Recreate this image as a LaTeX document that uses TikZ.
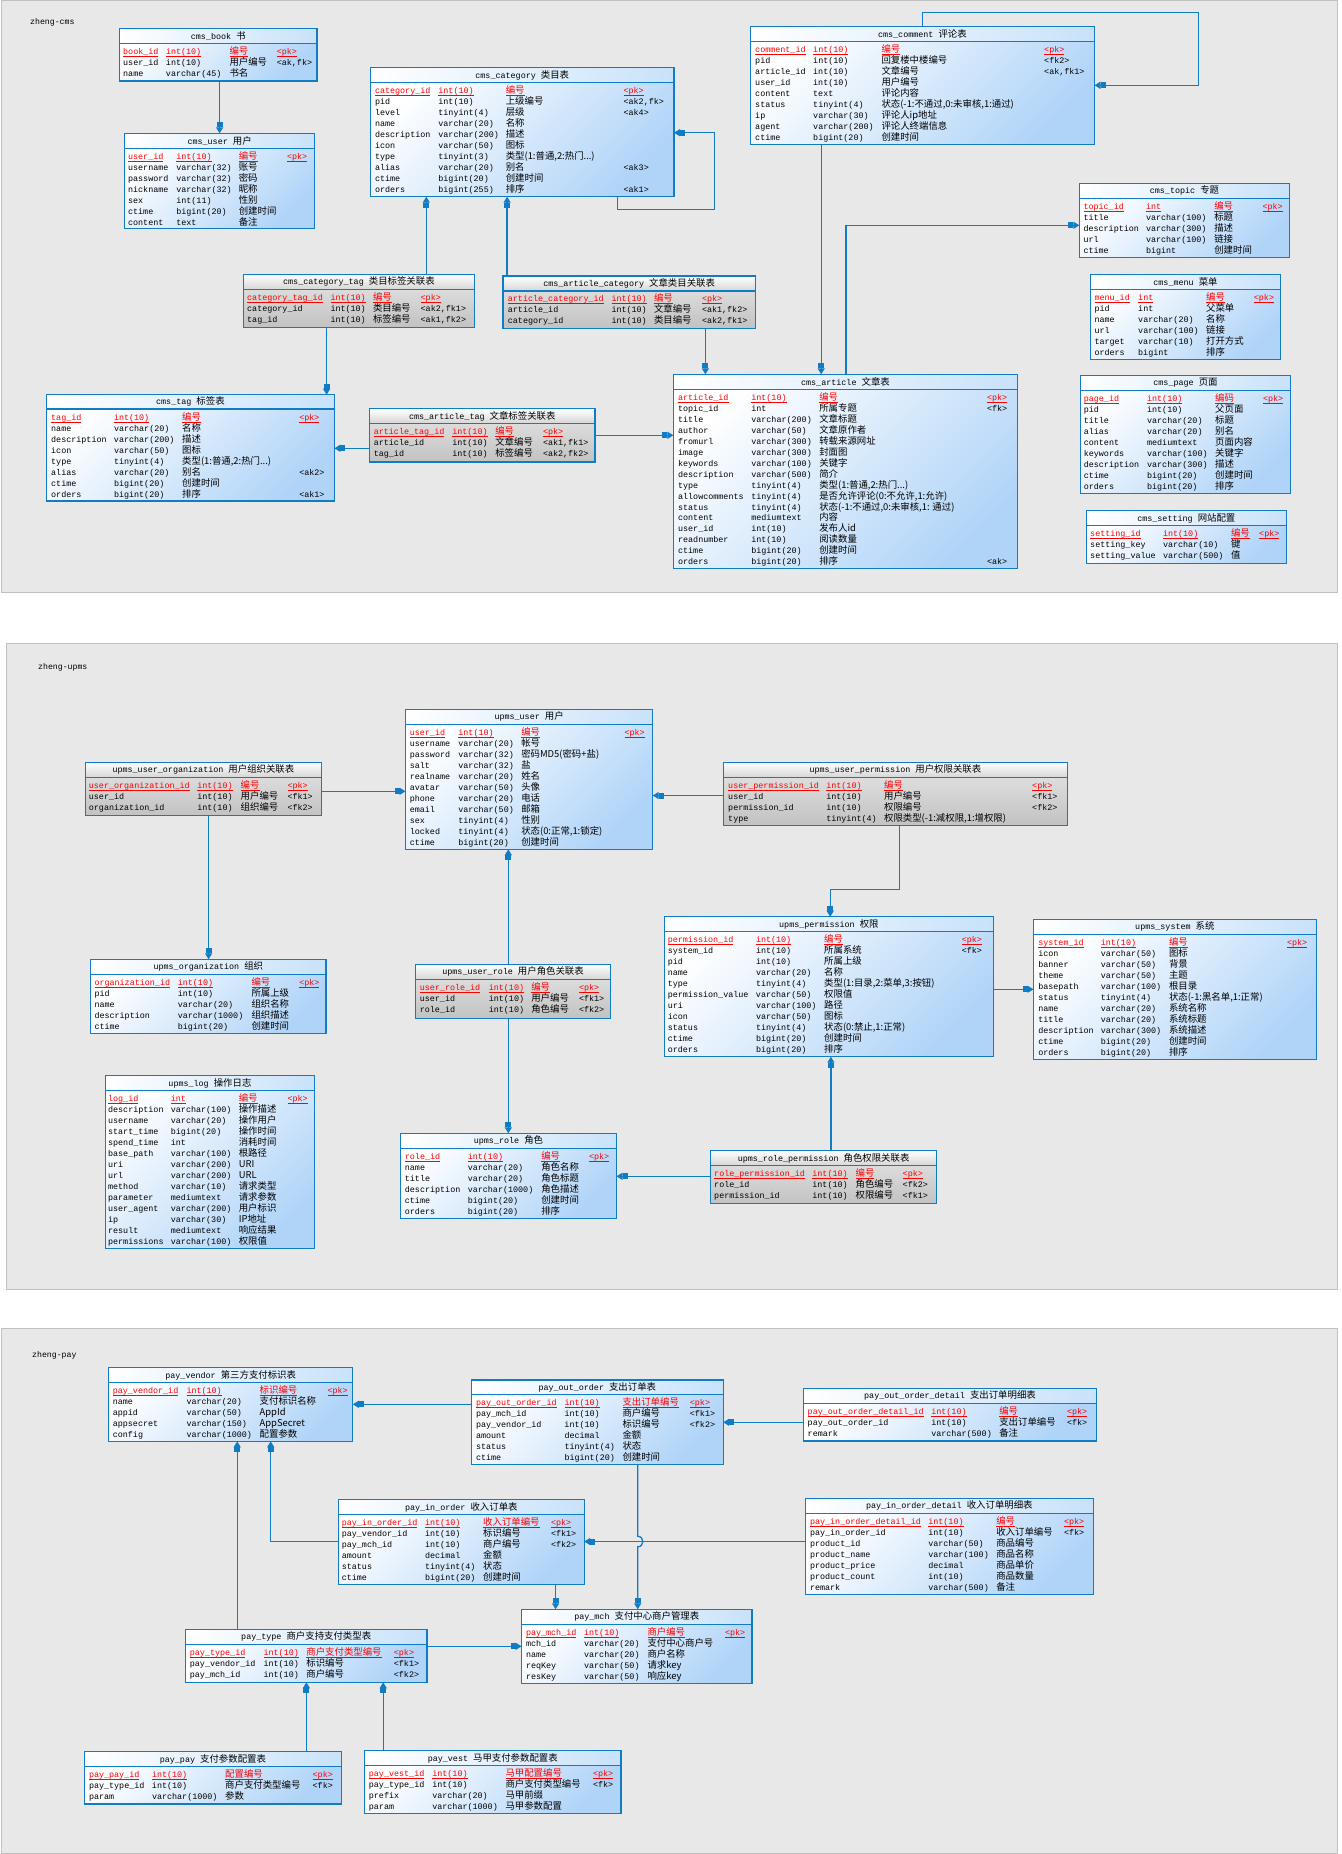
\documentclass[tikz,border=0pt]{standalone}
\usepackage{fontspec}
\usetikzlibrary{arrows.meta}
\newfontfamily\latfam{Liberation Mono}
\newfontfamily\cjkfam{Noto Sans CJK SC}
\newcommand\cjk{\cjkfam\fontsize{9.4}{11}\selectfont}
\definecolor{tb}{RGB}{16,124,196}
\definecolor{lb}{RGB}{176,212,248}
\definecolor{lbt}{RGB}{200,226,250}
\definecolor{pg}{RGB}{232,232,232}
\definecolor{pgb}{RGB}{192,192,192}
\definecolor{gt}{RGB}{214,214,214}
\definecolor{gba}{RGB}{230,230,230}
\definecolor{gbb}{RGB}{194,194,194}
\newcounter{rc}
\newlength\wA \newlength\wB \newlength\wC
\newsavebox\ulbox
\newcommand\ul[1]{\sbox\ulbox{#1}\rlap{\rule[-1.9pt]{\wd\ulbox}{0.6pt}}\usebox\ulbox}
\tikzset{
 bluebody/.style={top color=white,bottom color=lb,shading angle=45},
 bluetitle/.style={left color=white,right color=lbt},
 graybody/.style={top color=gba,bottom color=gbb},
 graytitle/.style={top color=white,bottom color=gt},
 tbox/.style={draw=tb,line width=1.3pt,inner sep=0pt,outer sep=0pt,anchor=north west},
 ttl/.style={inner sep=0pt,font=\latfam\fontsize{8.4}{11}\selectfont},
 rowtxt/.style={inner sep=0pt,outer sep=0pt,anchor=base west,font=\latfam\fontsize{8.4}{11}\selectfont},
 fk/.style={draw=tb,line width=1.3pt,-{Rectangle[length=5pt,width=6pt]Triangle[length=6pt,width=7pt]}},
 panel/.style={fill=pg,draw=pgb,line width=1pt},
 plabel/.style={anchor=west,inner sep=0pt,font=\latfam\fontsize{8.2}{10}\selectfont},
}
\newcommand\tbl[9]{%
 \shade[#9body] (#2,#3) rectangle (#4,#5);
 \shade[#9title] (#2,#3) rectangle (#4,#6);
 \node[tbox,minimum width={#4pt-#2pt},minimum height={#5pt-#3pt}] (#1) at (#2,#3) {};
 \draw[draw=tb,line width=1.3pt] (#1.west |- 0,#6) -- (#1.east |- 0,#6);
 \node[ttl] (#1-t) at ({(#2+#4)/2},{(#3+#6)/2}) {#7\ {\cjk #8}};
}
\newcommand\cols[5]{\def\cA{#1}\def\ry{#5}%
 \setlength\wA{\dimexpr#2pt-#1pt\relax}%
 \setlength\wB{\dimexpr#3pt-#2pt\relax}%
 \setlength\wC{\dimexpr#4pt-#3pt\relax}}
\newcommand\rw[4]{\stepcounter{rc}%
 \node[rowtxt] (r\arabic{rc}) at (\cA,\ry+3.6) {\makebox[\wA][l]{#1}\makebox[\wB][l]{#2}\makebox[\wC][l]{\cjk #3}#4};%
 \pgfmathsetmacro\ry{\ry+10.97}}
\newcommand\pk[4]{\stepcounter{rc}%
 \node[rowtxt,text=red] (r\arabic{rc}) at (\cA,\ry+3.6) {\makebox[\wA][l]{\ul{#1}}\makebox[\wB][l]{\ul{#2}}\makebox[\wC][l]{\ul{\cjk #3}}\ul{#4}};%
 \pgfmathsetmacro\ry{\ry+10.97}}
\begin{document}
\begin{tikzpicture}[x=1pt,y=-1pt]
\useasboundingbox (0,0) rectangle (1341,1854);
\fill[white] (0,0) rectangle (1341,1854);
% panels
\draw[panel] (1,1) rectangle (1337,592);
\draw[panel] (6,643) rectangle (1337,1289);
\draw[panel] (1,1328) rectangle (1337,1853);
\node[plabel] (lcms) at (30,22) {zheng-cms};
\node[plabel] (lupms) at (38,667) {zheng-upms};
\node[plabel] (lpay) at (32,1355) {zheng-pay};

% ================= CMS =================
\tbl{cmsbook}{119.6}{28.3}{317}{81}{43.3}{cms\_book}{书}{blue}
\cols{123.2}{166}{229.5}{276.8}{51}
\pk{book\_id}{int(10)}{编号}{<pk>}
\rw{user\_id}{int(10)}{用户编号}{<ak,fk>}
\rw{name}{varchar(45)}{书名}{}

\tbl{cmsuser}{124.5}{133.3}{314.7}{228.3}{148.3}{cms\_user}{用户}{blue}
\cols{128.1}{176.3}{238.8}{287}{155.7}
\pk{user\_id}{int(10)}{编号}{<pk>}
\rw{username}{varchar(32)}{账号}{}
\rw{password}{varchar(32)}{密码}{}
\rw{nickname}{varchar(32)}{昵称}{}
\rw{sex}{int(11)}{性别}{}
\rw{ctime}{bigint(20)}{创建时间}{}
\rw{content}{text}{备注}{}

\tbl{cmscategory}{370.5}{67.7}{674}{196.7}{82.7}{cms\_category}{类目表}{blue}
\cols{375}{438.4}{505.8}{623.6}{89.7}
\pk{category\_id}{int(10)}{编号}{<pk>}
\rw{pid}{int(10)}{上级编号}{<ak2,fk>}
\rw{level}{tinyint(4)}{层级}{<ak4>}
\rw{name}{varchar(20)}{名称}{}
\rw{description}{varchar(200)}{描述}{}
\rw{icon}{varchar(50)}{图标}{}
\rw{type}{tinyint(3)}{类型(1:普通,2:热门...)}{}
\rw{alias}{varchar(20)}{别名}{<ak3>}
\rw{ctime}{bigint(20)}{创建时间}{}
\rw{orders}{bigint(255)}{排序}{<ak1>}

\tbl{cmscomment}{750.3}{26.7}{1094.5}{144.3}{41.7}{cms\_comment}{评论表}{blue}
\cols{755.2}{813.2}{881.5}{1044.2}{49}
\pk{comment\_id}{int(10)}{编号}{<pk>}
\rw{pid}{int(10)}{回复楼中楼编号}{<fk2>}
\rw{article\_id}{int(10)}{文章编号}{<ak,fk1>}
\rw{user\_id}{int(10)}{用户编号}{}
\rw{content}{text}{评论内容}{}
\rw{status}{tinyint(4)}{状态(-1:不通过,0:未审核,1:通过)}{}
\rw{ip}{varchar(30)}{评论人ip地址}{}
\rw{agent}{varchar(200)}{评论人终端信息}{}
\rw{ctime}{bigint(20)}{创建时间}{}

\tbl{cmstopic}{1079.4}{183.3}{1289.5}{257.3}{198.3}{cms\_topic}{专题}{blue}
\cols{1083.5}{1146}{1214.3}{1262.5}{205.7}
\pk{topic\_id}{int}{编号}{<pk>}
\rw{title}{varchar(100)}{标题}{}
\rw{description}{varchar(300)}{描述}{}
\rw{url}{varchar(100)}{链接}{}
\rw{ctime}{bigint}{创建时间}{}

\tbl{cmsmenu}{1090.4}{274.3}{1280.5}{359.3}{289.3}{cms\_menu}{菜单}{blue}
\cols{1094.5}{1138.2}{1206.1}{1253.9}{296.7}
\pk{menu\_id}{int}{编号}{<pk>}
\rw{pid}{int}{父菜单}{}
\rw{name}{varchar(20)}{名称}{}
\rw{url}{varchar(100)}{链接}{}
\rw{target}{varchar(10)}{打开方式}{}
\rw{orders}{bigint}{排序}{}

\tbl{cmspage}{1080.4}{375.3}{1290.5}{493.3}{390.7}{cms\_page}{页面}{blue}
\cols{1083.8}{1147.1}{1215.2}{1263.1}{397.7}
\pk{page\_id}{int(10)}{编码}{<pk>}
\rw{pid}{int(10)}{父页面}{}
\rw{title}{varchar(20)}{标题}{}
\rw{alias}{varchar(20)}{别名}{}
\rw{content}{mediumtext}{页面内容}{}
\rw{keywords}{varchar(100)}{关键字}{}
\rw{description}{varchar(300)}{描述}{}
\rw{ctime}{bigint(20)}{创建时间}{}
\rw{orders}{bigint(20)}{排序}{}

\tbl{cmssetting}{1086.4}{510.7}{1286.2}{563.3}{525.3}{cms\_setting}{网站配置}{blue}
\cols{1090.2}{1163}{1231}{1259.2}{533}
\pk{setting\_id}{int(10)}{编号}{<pk>}
\rw{setting\_key}{varchar(10)}{键}{}
\rw{setting\_value}{varchar(500)}{值}{}

\tbl{cmscattag}{243.3}{274.3}{474.5}{327.3}{289.3}{cms\_category\_tag}{类目标签关联表}{gray}
\cols{247.2}{330.5}{373}{420.7}{296.7}
\pk{category\_tag\_id}{int(10)}{编号}{<pk>}
\rw{category\_id}{int(10)}{类目编号}{<ak2,fk1>}
\rw{tag\_id}{int(10)}{标签编号}{<ak1,fk2>}

\tbl{cmsartcat}{503.1}{276}{755.2}{328.3}{291}{cms\_article\_category}{文章类目关联表}{gray}
\cols{507.9}{611.5}{654}{702}{298.3}
\pk{article\_category\_id}{int(10)}{编号}{<pk>}
\rw{article\_id}{int(10)}{文章编号}{<ak1,fk2>}
\rw{category\_id}{int(10)}{类目编号}{<ak2,fk1>}

\tbl{cmstag}{46.4}{394.7}{334.4}{501}{409}{cms\_tag}{标签表}{blue}
\cols{51.2}{114}{182.2}{299.3}{416.7}
\pk{tag\_id}{int(10)}{编号}{<pk>}
\rw{name}{varchar(20)}{名称}{}
\rw{description}{varchar(200)}{描述}{}
\rw{icon}{varchar(50)}{图标}{}
\rw{type}{tinyint(4)}{类型(1:普通,2:热门...)}{}
\rw{alias}{varchar(20)}{别名}{<ak2>}
\rw{ctime}{bigint(20)}{创建时间}{}
\rw{orders}{bigint(20)}{排序}{<ak1>}

\tbl{cmsarttag}{369.5}{408.7}{595}{462}{423.3}{cms\_article\_tag}{文章标签关联表}{gray}
\cols{373.8}{452.3}{495.3}{543}{431}
\pk{article\_tag\_id}{int(10)}{编号}{<pk>}
\rw{article\_id}{int(10)}{文章编号}{<ak1,fk1>}
\rw{tag\_id}{int(10)}{标签编号}{<ak2,fk2>}

\tbl{cmsarticle}{673.4}{374.3}{1017.5}{568.7}{389.3}{cms\_article}{文章表}{blue}
\cols{678.1}{751.3}{819.3}{987.1}{396.7}
\pk{article\_id}{int(10)}{编号}{<pk>}
\rw{topic\_id}{int}{所属专题}{<fk>}
\rw{title}{varchar(200)}{文章标题}{}
\rw{author}{varchar(50)}{文章原作者}{}
\rw{fromurl}{varchar(300)}{转载来源网址}{}
\rw{image}{varchar(300)}{封面图}{}
\rw{keywords}{varchar(100)}{关键字}{}
\rw{description}{varchar(500)}{简介}{}
\rw{type}{tinyint(4)}{类型(1:普通,2:热门...)}{}
\rw{allowcomments}{tinyint(4)}{是否允许评论(0:不允许,1:允许)}{}
\rw{status}{tinyint(4)}{状态(-1:不通过,0:未审核,1: 通过)}{}
\rw{content}{mediumtext}{内容}{}
\rw{user\_id}{int(10)}{发布人id}{}
\rw{readnumber}{int(10)}{阅读数量}{}
\rw{ctime}{bigint(20)}{创建时间}{}
\rw{orders}{bigint(20)}{排序}{<ak>}

% ================= UPMS =================
\tbl{upuser}{405.5}{709.3}{652.7}{849.3}{724.3}{upms\_user}{用户}{blue}
\cols{409.8}{458.4}{521.3}{624.5}{731.7}
\pk{user\_id}{int(10)}{编号}{<pk>}
\rw{username}{varchar(20)}{帐号}{}
\rw{password}{varchar(32)}{密码MD5(密码+盐)}{}
\rw{salt}{varchar(32)}{盐}{}
\rw{realname}{varchar(20)}{姓名}{}
\rw{avatar}{varchar(50)}{头像}{}
\rw{phone}{varchar(20)}{电话}{}
\rw{email}{varchar(50)}{邮箱}{}
\rw{sex}{tinyint(4)}{性别}{}
\rw{locked}{tinyint(4)}{状态(0:正常,1:锁定)}{}
\rw{ctime}{bigint(20)}{创建时间}{}

\tbl{upuserorg}{85.4}{762.3}{321.4}{815.3}{777.3}{upms\_user\_organization}{用户组织关联表}{gray}
\cols{88.9}{197.3}{240.7}{287.5}{784.7}
\pk{user\_organization\_id}{int(10)}{编号}{<pk>}
\rw{user\_id}{int(10)}{用户编号}{<fk1>}
\rw{organization\_id}{int(10)}{组织编号}{<fk2>}

\tbl{upuserperm}{723.4}{762.3}{1067.4}{825.3}{777.3}{upms\_user\_permission}{用户权限关联表}{gray}
\cols{728.2}{826.3}{884.1}{1032.2}{784.7}
\pk{user\_permission\_id}{int(10)}{编号}{<pk>}
\rw{user\_id}{int(10)}{用户编号}{<fk1>}
\rw{permission\_id}{int(10)}{权限编号}{<fk2>}
\rw{type}{tinyint(4)}{权限类型(-1:减权限,1:增权限)}{}

\tbl{upperm}{664.3}{916.7}{993.5}{1056.7}{931.7}{upms\_permission}{权限}{blue}
\cols{667.8}{756}{824.2}{961.8}{938.7}
\pk{permission\_id}{int(10)}{编号}{<pk>}
\rw{system\_id}{int(10)}{所属系统}{<fk>}
\rw{pid}{int(10)}{所属上级}{}
\rw{name}{varchar(20)}{名称}{}
\rw{type}{tinyint(4)}{类型(1:目录,2:菜单,3:按钮)}{}
\rw{permission\_value}{varchar(50)}{权限值}{}
\rw{uri}{varchar(100)}{路径}{}
\rw{icon}{varchar(50)}{图标}{}
\rw{status}{tinyint(4)}{状态(0:禁止,1:正常)}{}
\rw{ctime}{bigint(20)}{创建时间}{}
\rw{orders}{bigint(20)}{排序}{}

\tbl{upsystem}{1033.5}{919.3}{1316.2}{1059.3}{934.3}{upms\_system}{系统}{blue}
\cols{1038.3}{1100.8}{1169}{1287.1}{942}
\pk{system\_id}{int(10)}{编号}{<pk>}
\rw{icon}{varchar(50)}{图标}{}
\rw{banner}{varchar(50)}{背景}{}
\rw{theme}{varchar(50)}{主题}{}
\rw{basepath}{varchar(100)}{根目录}{}
\rw{status}{tinyint(4)}{状态(-1:黑名单,1:正常)}{}
\rw{name}{varchar(20)}{系统名称}{}
\rw{title}{varchar(20)}{系统标题}{}
\rw{description}{varchar(300)}{系统描述}{}
\rw{ctime}{bigint(20)}{创建时间}{}
\rw{orders}{bigint(20)}{排序}{}

\tbl{uporg}{90.6}{959.3}{326.1}{1033.3}{974.3}{upms\_organization}{组织}{blue}
\cols{94.5}{177.8}{251.5}{299.3}{981.7}
\pk{organization\_id}{int(10)}{编号}{<pk>}
\rw{pid}{int(10)}{所属上级}{}
\rw{name}{varchar(20)}{组织名称}{}
\rw{description}{varchar(1000)}{组织描述}{}
\rw{ctime}{bigint(20)}{创建时间}{}

\tbl{upuserrole}{415.5}{964.3}{610.6}{1018.3}{979.3}{upms\_user\_role}{用户角色关联表}{gray}
\cols{419.8}{488.8}{531.3}{579}{986.7}
\pk{user\_role\_id}{int(10)}{编号}{<pk>}
\rw{user\_id}{int(10)}{用户编号}{<fk1>}
\rw{role\_id}{int(10)}{角色编号}{<fk2>}

\tbl{uplog}{105.3}{1075.3}{314.6}{1248.3}{1090.7}{upms\_log}{操作日志}{blue}
\cols{108.1}{170.9}{238.8}{287.6}{1098.3}
\pk{log\_id}{int}{编号}{<pk>}
\rw{description}{varchar(100)}{操作描述}{}
\rw{username}{varchar(20)}{操作用户}{}
\rw{start\_time}{bigint(20)}{操作时间}{}
\rw{spend\_time}{int}{消耗时间}{}
\rw{base\_path}{varchar(100)}{根路径}{}
\rw{uri}{varchar(200)}{URI}{}
\rw{url}{varchar(200)}{URL}{}
\rw{method}{varchar(10)}{请求类型}{}
\rw{parameter}{mediumtext}{请求参数}{}
\rw{user\_agent}{varchar(200)}{用户标识}{}
\rw{ip}{varchar(30)}{IP地址}{}
\rw{result}{mediumtext}{响应结果}{}
\rw{permissions}{varchar(100)}{权限值}{}

\tbl{uprole}{400.4}{1133.3}{616.5}{1218.3}{1148.3}{upms\_role}{角色}{blue}
\cols{404.9}{467.8}{541.3}{589}{1156.3}
\pk{role\_id}{int(10)}{编号}{<pk>}
\rw{name}{varchar(20)}{角色名称}{}
\rw{title}{varchar(20)}{角色标题}{}
\rw{description}{varchar(1000)}{角色描述}{}
\rw{ctime}{bigint(20)}{创建时间}{}
\rw{orders}{bigint(20)}{排序}{}

\tbl{uproleperm}{710.8}{1150.3}{936.4}{1203.7}{1165.7}{upms\_role\_permission}{角色权限关联表}{gray}
\cols{714.2}{812.4}{855.6}{902.7}{1173}
\pk{role\_permission\_id}{int(10)}{编号}{<pk>}
\rw{role\_id}{int(10)}{角色编号}{<fk2>}
\rw{permission\_id}{int(10)}{权限编号}{<fk1>}

% ================= PAY =================
\tbl{payvendor}{108.6}{1367.7}{352.8}{1441.3}{1382.7}{pay\_vendor}{第三方支付标识表}{blue}
\cols{112.8}{186.5}{259.7}{327.5}{1390}
\pk{pay\_vendor\_id}{int(10)}{标识编号}{<pk>}
\rw{name}{varchar(20)}{支付标识名称}{}
\rw{appid}{varchar(50)}{AppId}{}
\rw{appsecret}{varchar(150)}{AppSecret}{}
\rw{config}{varchar(1000)}{配置参数}{}

\tbl{payout}{471.4}{1380}{723.2}{1464.3}{1394.3}{pay\_out\_order}{支出订单表}{blue}
\cols{476}{564.5}{622.5}{689.9}{1402}
\pk{pay\_out\_order\_id}{int(10)}{支出订单编号}{<pk>}
\rw{pay\_mch\_id}{int(10)}{商户编号}{<fk1>}
\rw{pay\_vendor\_id}{int(10)}{标识编号}{<fk2>}
\rw{amount}{decimal}{金额}{}
\rw{status}{tinyint(4)}{状态}{}
\rw{ctime}{bigint(20)}{创建时间}{}

\tbl{payoutdet}{803.3}{1388.3}{1096.7}{1441}{1403.3}{pay\_out\_order\_detail}{支出订单明细表}{blue}
\cols{807.7}{931.3}{999.3}{1067}{1411}
\pk{pay\_out\_order\_detail\_id}{int(10)}{编号}{<pk>}
\rw{pay\_out\_order\_id}{int(10)}{支出订单编号}{<fk>}
\rw{remark}{varchar(500)}{备注}{}

\tbl{payin}{338.4}{1499.7}{584.2}{1584.3}{1514.3}{pay\_in\_order}{收入订单表}{blue}
\cols{341.8}{425.1}{483.2}{551}{1522}
\pk{pay\_in\_order\_id}{int(10)}{收入订单编号}{<pk>}
\rw{pay\_vendor\_id}{int(10)}{标识编号}{<fk1>}
\rw{pay\_mch\_id}{int(10)}{商户编号}{<fk2>}
\rw{amount}{decimal}{金额}{}
\rw{status}{tinyint(4)}{状态}{}
\rw{ctime}{bigint(20)}{创建时间}{}

\tbl{payindet}{805.3}{1498.3}{1093.3}{1594.3}{1513.3}{pay\_in\_order\_detail}{收入订单明细表}{blue}
\cols{810}{928.3}{996.3}{1064}{1521}
\pk{pay\_in\_order\_detail\_id}{int(10)}{编号}{<pk>}
\rw{pay\_in\_order\_id}{int(10)}{收入订单编号}{<fk>}
\rw{product\_id}{varchar(50)}{商品编号}{}
\rw{product\_name}{varchar(100)}{商品名称}{}
\rw{product\_price}{decimal}{商品单价}{}
\rw{product\_count}{int(10)}{商品数量}{}
\rw{remark}{varchar(500)}{备注}{}

\tbl{paymch}{521.6}{1609.3}{751.9}{1683.3}{1624.3}{pay\_mch}{支付中心商户管理表}{blue}
\cols{526}{584.1}{647.5}{725.1}{1632}
\pk{pay\_mch\_id}{int(10)}{商户编号}{<pk>}
\rw{mch\_id}{varchar(20)}{支付中心商户号}{}
\rw{name}{varchar(20)}{商户名称}{}
\rw{reqKey}{varchar(50)}{请求key}{}
\rw{resKey}{varchar(50)}{响应key}{}

\tbl{paytype}{185.4}{1629.3}{427}{1682.3}{1644.3}{pay\_type}{商户支持支付类型表}{blue}
\cols{189.9}{263.6}{306.4}{393.9}{1652}
\pk{pay\_type\_id}{int(10)}{商户支付类型编号}{<pk>}
\rw{pay\_vendor\_id}{int(10)}{标识编号}{<fk1>}
\rw{pay\_mch\_id}{int(10)}{商户编号}{<fk2>}

\tbl{paypay}{84.6}{1751.7}{341.2}{1804}{1766.7}{pay\_pay}{支付参数配置表}{blue}
\cols{89}{152}{225.2}{312.7}{1774}
\pk{pay\_pay\_id}{int(10)}{配置编号}{<pk>}
\rw{pay\_type\_id}{int(10)}{商户支付类型编号}{<fk>}
\rw{param}{varchar(1000)}{参数}{}

\tbl{payvest}{364.4}{1750.7}{621.1}{1813.3}{1765.7}{pay\_vest}{马甲支付参数配置表}{blue}
\cols{368.9}{432.3}{505.5}{593}{1773}
\pk{pay\_vest\_id}{int(10)}{马甲配置编号}{<pk>}
\rw{pay\_type\_id}{int(10)}{商户支付类型编号}{<fk>}
\rw{prefix}{varchar(20)}{马甲前缀}{}
\rw{param}{varchar(1000)}{马甲参数配置}{}

% ================= connectors =================
% CMS
\draw[fk] (cmsbook.south -| 219.6,0) -- (cmsuser.north -| 219.6,0);
\draw[fk] (cmscattag.north -| 426.3,0) -- (cmscategory.south -| 426.3,0);
\draw[fk] (cmsartcat.north -| 507.1,0) -- (cmscategory.south -| 507.1,0);
\draw[fk] (cmscategory.south -| 617.4,0) -- (617.4,209.3) -- (714.7,209.3) -- (714.7,132.7) -- (cmscategory.east |- 0,132.7);
\draw[fk] (cmscomment.north -| 922.4,0) -- (922.4,12.7) -- (1198.3,12.7) -- (1198.3,85.3) -- (cmscomment.east |- 0,85.3);
\draw[fk] (cmscomment.south -| 821.2,0) -- (cmsarticle.north -| 821.2,0);
\draw[fk] (cmsartcat.south -| 705.4,0) -- (cmsarticle.north -| 705.4,0);
\draw[fk] (cmsarticle.north -| 846,0) -- (846,225.3) -- (cmstopic.west |- 0,225.3);
\draw[fk] (cmscattag.south -| 326.6,0) -- (cmstag.north -| 326.6,0);
\draw[fk] (cmsarttag.west |- 0,448.3) -- (cmstag.east |- 0,448.3);
\draw[fk] (cmsarttag.east |- 0,435.3) -- (cmsarticle.west |- 0,435.3);
% UPMS
\draw[fk] (upuserorg.east |- 0,791.3) -- (upuser.west |- 0,791.3);
\draw[fk] (upuserperm.west |- 0,795.5) -- (upuser.east |- 0,795.5);
\draw[fk] (upuserorg.south -| 208.6,0) -- (uporg.north -| 208.6,0);
\draw[fk] (upuserrole.north -| 508.3,0) -- (upuser.south -| 508.3,0);
\draw[fk] (upuserrole.south -| 508.3,0) -- (uprole.north -| 508.3,0);
\draw[fk] (upuserperm.south -| 899.3,0) -- (899.3,889.3) -- (830.2,889.3) -- (upperm.north -| 830.2,0);
\draw[fk] (upperm.east |- 0,989.3) -- (upsystem.west |- 0,989.3);
\draw[fk] (uproleperm.north -| 830.9,0) -- (upperm.south -| 830.9,0);
\draw[fk] (uproleperm.west |- 0,1176.3) -- (uprole.east |- 0,1176.3);
% PAY
\draw[fk] (payout.west |- 0,1404.3) -- (payvendor.east |- 0,1404.3);
\draw[fk] (payoutdet.west |- 0,1422.3) -- (payout.east |- 0,1422.3);
\draw[fk] (payindet.west |- 0,1541.5) -- (payin.east |- 0,1541.5);
\draw[fk] (payin.west |- 0,1541.5) -- (270.7,1541.5) -- (payvendor.south -| 270.7,0);
\draw[fk] (payout.south -| 637.7,0) -- (637.7,1536.3) .. controls (644.5,1536.3) and (644.5,1546.8) .. (637.7,1546.8) -- (paymch.north -| 637.7,0);
\draw[fk] (payin.south -| 555.6,0) -- (paymch.north -| 555.6,0);
\draw[fk] (paytype.north -| 237.2,0) -- (payvendor.south -| 237.2,0);
\draw[fk] (paytype.east |- 0,1646.3) -- (paymch.west |- 0,1646.3);
\draw[fk] (paypay.north -| 306.4,0) -- (paytype.south -| 306.4,0);
\draw[fk] (payvest.north -| 383.2,0) -- (paytype.south -| 383.2,0);
\end{tikzpicture}
\end{document}
